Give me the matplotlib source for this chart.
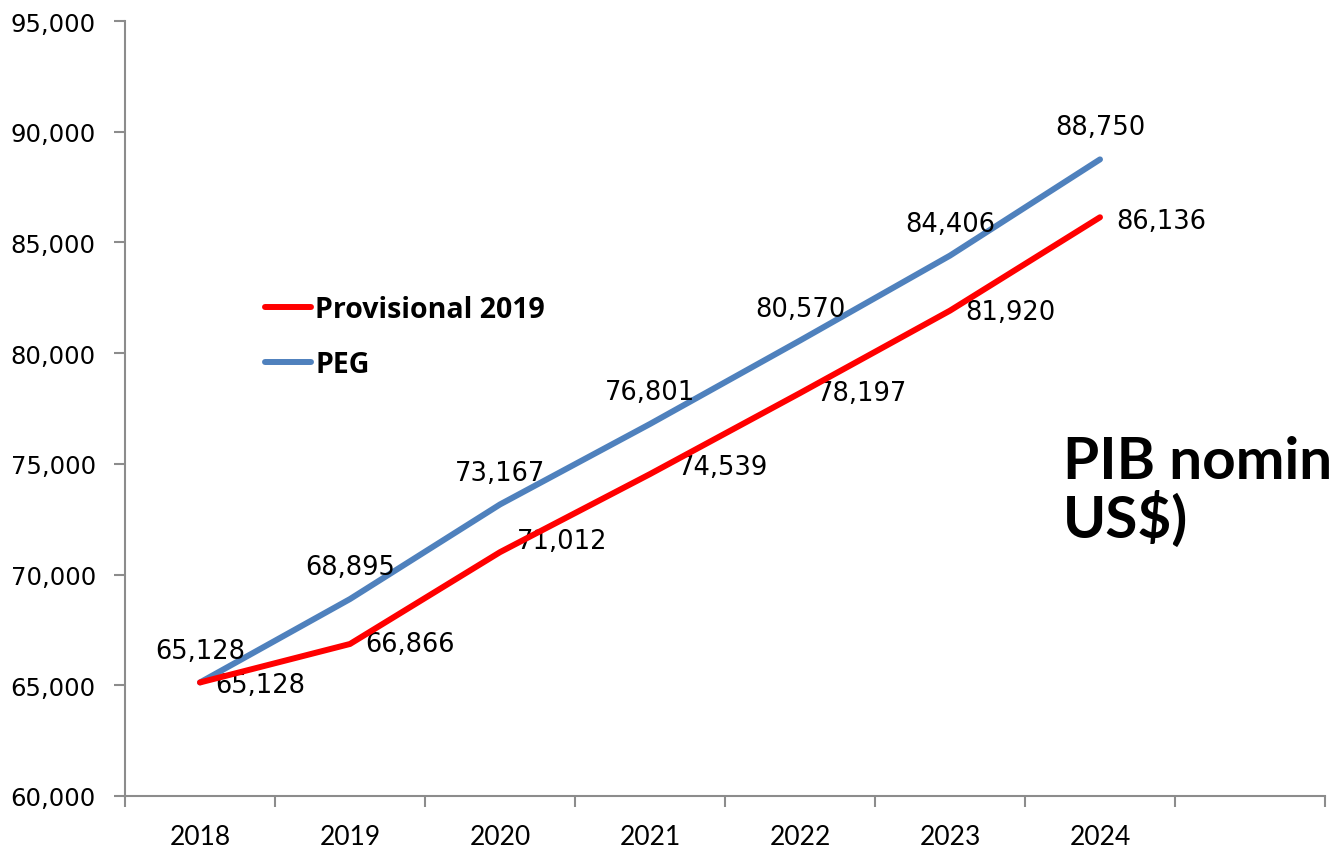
import matplotlib
matplotlib.use('Agg')
import matplotlib.pyplot as plt
from matplotlib.ticker import FuncFormatter, MultipleLocator, FixedLocator

years = ['2018', '2019', '2020', '2021', '2022', '2023', '2024']
provisional = [65128, 66866, 71012, 74539, 78197, 81920, 86136]
peg = [65128, 68895, 73167, 76801, 80570, 84406, 88750]

# small nudges (points) for the red labels, as placed in the original
red_dx = [11, 11, 12, 20, 12, 11, 12]
red_dy = [-2, 0, 8, 5, 0, -1, -3]

red = '#FF0000'
blue = '#4F81BD'
grey = '#8C8C8C'

fig = plt.figure(figsize=(13.29, 8.54), dpi=100)
ax = fig.add_axes([125 / 1329, 1 - 797 / 854, 1200 / 1329, 775 / 854])

x = list(range(len(years)))
ax.plot(x, peg, color=blue, lw=4.3, solid_capstyle='round', label='PEG', zorder=3)
ax.plot(x, provisional, color=red, lw=4.3, solid_capstyle='round', label='Provisional 2019', zorder=4)

for xi, v in zip(x, peg):
    ax.annotate(f'{v:,}', (xi, v), xytext=(0, 23), textcoords='offset points',
                ha='center', va='center', fontsize=18.5, family='DejaVu Sans')
for xi, v, dx, dy in zip(x, provisional, red_dx, red_dy):
    ax.annotate(f'{v:,}', (xi, v), xytext=(dx, dy), textcoords='offset points',
                ha='left', va='center', fontsize=18.5, family='DejaVu Sans')

ax.set_xlim(-0.5, 7.5)
ax.set_ylim(60000, 95000)
ax.yaxis.set_major_locator(MultipleLocator(5000))
ax.yaxis.set_major_formatter(FuncFormatter(lambda v, p: f'{int(v):,}'))

ax.set_xticks(x)
ax.set_xticklabels(years, family='Lato', fontsize=19)
ax.xaxis.set_minor_locator(FixedLocator([i - 0.5 for i in range(9)]))
ax.tick_params(axis='x', which='major', length=0, pad=20)
ax.tick_params(axis='x', which='minor', length=8, width=1.5, color=grey, direction='out')
ax.tick_params(axis='y', length=8, width=1.5, color=grey, direction='out', pad=13, labelsize=17.5)

for s in ['top', 'right']:
    ax.spines[s].set_visible(False)
for s in ['left', 'bottom']:
    ax.spines[s].set_color(grey)
    ax.spines[s].set_linewidth(1.5)

handles, labels = ax.get_legend_handles_labels()
leg = fig.legend(handles[::-1], labels[::-1], loc='upper left',
                 bbox_to_anchor=(251 / 1329, 1 - 282 / 854), frameon=False,
                 prop={'family': 'Open Sans', 'weight': 'bold', 'size': 20.5},
                 handlelength=1.6, handletextpad=0.15, labelspacing=0.92, borderpad=0)

fig.text(1063 / 1329, 1 - 538 / 854, 'PIB nominal (millones de\nUS$)', family='Lato',
         weight='bold', fontsize=42, ha='left', va='baseline', linespacing=1.05)

fig.savefig('out.png', dpi=100)
